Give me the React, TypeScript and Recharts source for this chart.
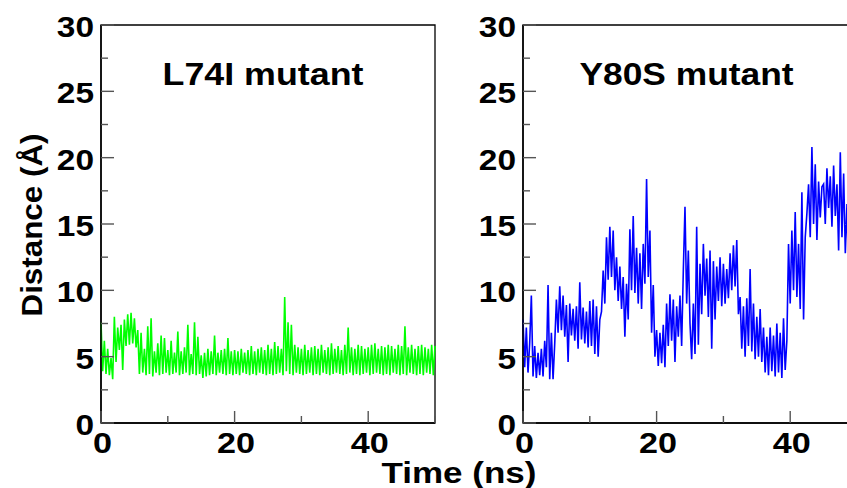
import React from 'react';
import { LineChart, Line, XAxis, YAxis, ReferenceArea } from 'recharts';

// sampling interval of the traces below (ns)
const STEP_NS = 0.25;

// L74I mutant distance trace (Å), one value per 0.25 ns
const L74I_DIST = [
  7.6, 3.9, 6.2, 3.7, 5.6, 3.6, 4.9, 3.3, 8.0, 4.6, 7.2, 5.5, 7.4, 4.0, 7.8, 5.8, 8.2, 5.9, 8.3, 6.0,
  7.9, 5.7, 7.0, 3.7, 6.8, 3.8, 5.6, 3.6, 7.3, 3.7, 7.9, 3.5, 5.4, 3.8, 6.0, 3.6, 6.6, 3.7, 6.4, 3.8,
  5.5, 3.6, 6.2, 3.7, 5.3, 3.8, 6.9, 3.6, 5.4, 3.7, 5.7, 3.8, 7.4, 3.6, 5.2, 3.7, 7.6, 3.6, 6.5, 3.7,
  5.1, 3.4, 5.3, 3.5, 5.6, 3.6, 5.4, 3.7, 6.6, 3.6, 5.3, 3.8, 5.5, 3.7, 5.6, 3.6, 6.4, 3.7, 5.4, 3.6,
  5.5, 3.7, 5.4, 3.6, 5.6, 3.8, 5.3, 3.7, 5.5, 3.6, 5.8, 3.7, 5.4, 3.6, 5.6, 3.8, 5.7, 3.7, 5.5, 3.6,
  5.9, 3.7, 5.6, 3.6, 6.1, 3.7, 5.8, 3.8, 5.6, 3.6, 9.5, 3.9, 7.6, 3.7, 7.4, 3.6, 5.9, 3.8, 5.7, 3.7,
  5.6, 3.6, 5.9, 3.7, 5.5, 3.8, 5.7, 3.6, 5.8, 3.7, 5.6, 3.6, 5.9, 3.8, 5.5, 3.7, 5.7, 3.6, 6.0, 3.7,
  5.6, 3.8, 5.8, 3.7, 5.5, 3.6, 5.9, 3.7, 7.2, 3.8, 5.7, 3.6, 5.6, 3.7, 5.9, 3.6, 5.8, 3.7, 5.6, 3.8,
  5.7, 3.6, 5.9, 3.7, 6.0, 3.8, 5.6, 3.7, 5.8, 3.6, 5.7, 3.7, 5.9, 3.6, 5.8, 3.8, 5.6, 3.7, 5.9, 3.6,
  5.8, 3.7, 7.3, 3.6, 5.7, 3.8, 5.9, 3.7, 5.6, 3.6, 5.8, 3.7, 5.9, 3.6, 5.7, 3.8, 5.6, 3.7, 5.9, 3.6, 5.8,
];

// Y80S mutant distance trace (Å)
const Y80S_DIST = [
  7.8, 4.2, 7.2, 3.8, 6.0, 9.6, 3.5, 5.8, 3.4, 5.3, 3.6, 5.6, 3.5, 6.2, 4.2, 10.4, 3.3, 6.8, 3.3, 6.0,
  9.3, 6.8, 10.3, 7.0, 9.6, 6.5, 8.9, 4.6, 9.0, 6.6, 8.6, 6.2, 8.8, 5.6, 10.6, 6.3, 8.7, 6.0, 8.4, 5.7,
  9.2, 5.8, 9.3, 5.2, 8.8, 5.0, 7.8, 8.4, 11.5, 9.0, 14.0, 10.8, 14.8, 11.0, 14.5, 10.0, 12.5, 9.2, 11.8, 8.6,
  11.0, 6.5, 10.5, 7.8, 14.6, 10.0, 15.6, 9.8, 13.2, 9.0, 12.8, 8.6, 13.5, 10.5, 18.4, 11.0, 14.5, 6.8, 10.4, 5.0,
  7.0, 4.3, 6.8, 4.5, 7.4, 4.2, 9.0, 5.8, 9.7, 6.2, 9.3, 4.6, 8.8, 6.5, 9.6, 5.8, 11.5, 16.3, 9.0, 13.0,
  7.5, 4.8, 9.0, 5.2, 14.8, 5.9, 12.0, 8.2, 13.5, 9.6, 12.4, 8.0, 13.0, 5.6, 12.2, 7.8, 11.8, 9.2, 12.5, 8.8,
  12.0, 9.0, 11.6, 9.4, 12.8, 10.0, 13.4, 10.3, 13.8, 8.2, 9.5, 5.6, 8.8, 5.0, 9.4, 5.8, 11.6, 5.4, 9.0, 4.8,
  8.0, 5.0, 8.6, 4.6, 7.2, 3.8, 6.5, 3.6, 7.2, 3.9, 6.6, 3.5, 7.5, 3.8, 6.8, 3.4, 7.9, 4.0, 6.2, 13.5,
  9.0, 14.5, 10.0, 15.9, 9.5, 13.5, 8.6, 17.4, 7.8, 14.0, 15.8, 18.0, 14.0, 20.8, 15.0, 19.5, 13.8, 18.2, 15.5, 17.8,
  18.0, 15.0, 19.2, 16.2, 18.6, 14.8, 19.4, 15.6, 18.0, 13.0, 20.4, 14.0, 18.8, 12.8, 16.5, 11.0, 17.0, 14.5, 17.5, 15.0, 16.5,
];

const X_TICKS = [0, 10, 20, 30, 40, 50];
const X_LABELED = [0, 20, 40];
const Y_TICKS = [0, 2.5, 5, 7.5, 10, 12.5, 15, 17.5, 20, 22.5, 25, 27.5, 30];
const Y_LABELED = [0, 5, 10, 15, 20, 25, 30];

const FONT = '"Liberation Sans", Arial, Helvetica, sans-serif';
const TICK_COLOR = '#555';

const toRows = (values: number[]) => values.map((d, i) => ({ t: i * STEP_NS, d }));

const YTick = (props: any) => {
  const { x, y, payload } = props;
  const v = payload.value;
  const major = Y_LABELED.includes(v);
  const axisX = x + 8;
  const label = String(v);
  return (
    <g>
      <line x1={axisX} y1={y} x2={axisX + (major ? 13 : 7)} y2={y} stroke={TICK_COLOR} strokeWidth={1.4} />
      {major && (
        <text
          x={x + 1}
          y={y + 12}
          textAnchor="end"
          fontFamily={FONT}
          fontWeight="bold"
          fontSize={30}
          fill="#000"
          textLength={label.length * 18.6}
          lengthAdjust="spacingAndGlyphs"
        >
          {label}
        </text>
      )}
    </g>
  );
};

const XTick = (props: any) => {
  const { x, y, payload } = props;
  const v = payload.value;
  const major = X_LABELED.includes(v);
  const label = String(v);
  return (
    <g>
      <line x1={x} y1={y} x2={x} y2={y - (major ? 12 : 7)} stroke={TICK_COLOR} strokeWidth={1.4} />
      {major && (
        <text
          x={x + 1.5}
          y={y + 30}
          textAnchor="middle"
          fontFamily={FONT}
          fontWeight="bold"
          fontSize={30}
          fill="#000"
          textLength={label.length * 19}
          lengthAdjust="spacingAndGlyphs"
        >
          {label}
        </text>
      )}
    </g>
  );
};

const panelTitle = (text: string, dx: number, width: number) => (props: any) => {
  const vb = props.viewBox || { x: 0, y: 0 };
  return (
    <text
      x={vb.x + dx}
      y={vb.y + 60}
      textAnchor="middle"
      fontFamily={FONT}
      fontWeight="bold"
      fontSize={31}
      fill="#000"
      textLength={width}
      lengthAdjust="spacingAndGlyphs"
    >
      {text}
    </text>
  );
};

interface PanelProps {
  values: number[];
  color: string;
  title: string;
  titleDx: number;
  titleWidth: number;
  width: number;
  marginLeft: number;
  marginRight: number;
}

const Panel: React.FC<PanelProps> = ({ values, color, title, titleDx, titleWidth, width, marginLeft, marginRight }) => (
  <div style={{ position: 'absolute', left: 0, top: 0 }}>
    <LineChart
      width={width}
      height={488}
      data={toRows(values)}
      margin={{ top: 25, right: marginRight, bottom: 25, left: marginLeft }}
    >
      <XAxis
        dataKey="t"
        type="number"
        domain={[0, 50]}
        ticks={X_TICKS}
        interval={0}
        height={40}
        tickSize={0}
        tickMargin={0}
        tickLine={false}
        tick={XTick}
        axisLine={{ stroke: '#000', strokeWidth: 1.5 }}
      />
      <YAxis
        type="number"
        domain={[0, 30]}
        ticks={Y_TICKS}
        interval={0}
        width={60}
        tickSize={0}
        tickMargin={8}
        tickLine={false}
        tick={YTick}
        axisLine={{ stroke: '#000', strokeWidth: 1.5 }}
      />
      <ReferenceArea
        x1={0}
        x2={50}
        y1={0}
        y2={30}
        fill="none"
        stroke="#000"
        strokeWidth={1.3}
        label={panelTitle(title, titleDx, titleWidth)}
      />
      <Line
        type="linear"
        dataKey="d"
        stroke={color}
        strokeWidth={1.6}
        strokeLinejoin="miter"
        dot={false}
        activeDot={false}
        isAnimationActive={false}
      />
    </LineChart>
  </div>
);

export default function App() {
  return (
    <div
      style={{
        position: 'fixed',
        left: 0,
        top: 0,
        width: 847,
        height: 488,
        overflow: 'hidden',
        background: '#fff',
      }}
    >
      <Panel
        values={L74I_DIST}
        color="#00ff00"
        title="L74I mutant"
        titleDx={162}
        titleWidth={201}
        width={847}
        marginLeft={41}
        marginRight={412}
      />
      <Panel
        values={Y80S_DIST}
        color="#0000ff"
        title="Y80S mutant"
        titleDx={163.5}
        titleWidth={214}
        width={870}
        marginLeft={463}
        marginRight={13}
      />
      <svg width={847} height={488} style={{ position: 'absolute', left: 0, top: 0, pointerEvents: 'none' }}>
        <text
          transform="translate(42,225) rotate(-90)"
          textAnchor="middle"
          fontFamily={FONT}
          fontWeight="bold"
          fontSize={30}
          fill="#000"
          textLength={183}
          lengthAdjust="spacingAndGlyphs"
        >
          Distance (Å)
        </text>
        <text
          x={459}
          y={483}
          textAnchor="middle"
          fontFamily={FONT}
          fontWeight="bold"
          fontSize={29}
          fill="#000"
          textLength={155}
          lengthAdjust="spacingAndGlyphs"
        >
          Time (ns)
        </text>
      </svg>
    </div>
  );
}
